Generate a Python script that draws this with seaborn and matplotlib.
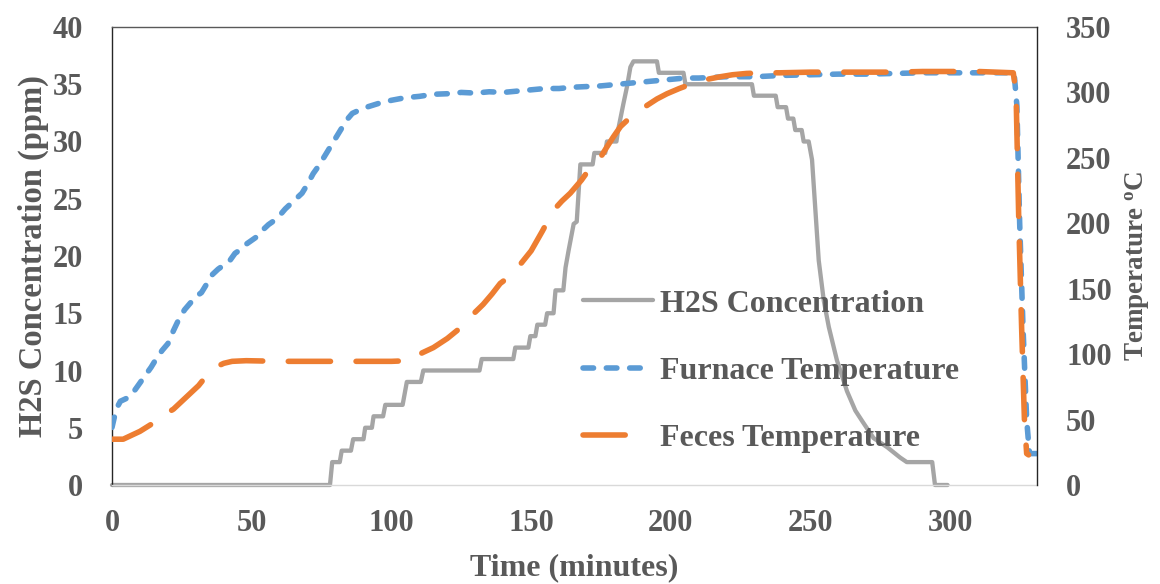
import matplotlib
matplotlib.use("Agg")
import matplotlib.pyplot as plt
import seaborn as sns
import numpy as np

# ---------------- data ----------------
h2s_time = [0, 78, 78.8, 81.5, 82.2, 85.5, 86.3, 90, 90.6, 93, 93.6, 97, 97.8, 104, 105.5,
            110.5, 111.4, 131.5, 132.3, 143.6, 144.3, 149, 149.7, 151.5, 152.2, 155, 155.7,
            158, 158.7, 161.5, 162.3, 163.4, 165.2, 166.3, 167.6, 172, 172.6, 176.5, 177.1,
            180.5, 181.1, 183, 184.3, 185.5, 186.6, 195, 195.7, 204.5, 205.2, 229, 229.7,
            237.5, 238.2, 241.2, 241.9, 243.8, 244.5, 246.8, 247.5, 249.3, 250.5, 251.7,
            252.9, 254.7, 256.5, 259.4, 263, 266, 268.4, 272.5, 277.4, 282, 284.4, 293.5,
            294.5, 299]
h2s_ppm = [0, 0, 2, 2, 3, 3, 4, 4, 5, 5, 6, 6, 7, 7, 9,
           9, 10, 10, 11, 11, 12, 12, 13, 13, 14, 14, 15,
           15, 17, 17, 19, 20.5, 22.8, 23, 28, 28, 29, 29, 30,
           30, 31, 33.3, 34.8, 36.5, 37, 37, 36, 36, 35, 35, 34,
           34, 33, 33, 32, 32, 31, 31, 30, 30, 28.4, 24,
           19.6, 16.1, 13.8, 10.9, 8.2, 6.5, 5.6, 4.1, 3.3, 2.4, 2, 2,
           0, 0]

furnace_time = [0, 1.5, 3, 6, 8, 10, 12, 14, 16, 18, 20, 22, 24, 26, 28, 30, 32, 34, 36, 38,
                40, 42, 44, 46, 48, 50, 52, 54, 56, 58, 60, 62, 64, 66, 68, 70, 72, 74, 76,
                78, 80, 82, 84, 86, 88, 90, 93, 96, 100, 105, 110, 115, 120, 125, 130, 135,
                140, 145, 150, 155, 160, 165, 170, 175, 180, 185, 190, 195, 200, 205, 210,
                220, 230, 240, 250, 260, 270, 280, 290, 300, 310, 320, 322.8, 323.8, 324.8,
                326, 327.3, 328.3, 331]
furnace_temp = [44, 58, 64, 67, 72, 78, 84, 90, 97, 103, 108, 118, 127, 134, 139, 144, 147,
                154, 161, 165, 168, 171, 177, 180, 184, 187, 190, 195, 199, 202, 206, 211,
                215, 219, 223, 230, 238, 244, 251, 258, 265, 272, 279, 284, 286, 288, 290,
                292, 294, 296, 297, 298.6, 299, 300, 299.5, 300.5, 300, 301, 302, 303, 303,
                304, 304.5, 305, 306, 307, 308, 309, 310, 311, 311, 312, 312, 313, 313.5,
                314, 314, 314.5, 315, 315, 315, 315, 315, 290, 200, 120, 50, 24, 24]

feces_time = [0, 4, 7, 10, 13, 16, 19, 22, 25, 28, 31, 34, 37, 40, 43, 48, 60, 80, 100, 106,
              108, 111, 115, 120, 124.6, 128, 132.8, 136, 138.9, 142, 144, 147, 150, 154,
              158, 161, 164, 168, 171, 174.7, 177, 179.4, 182, 185.5, 188, 191.4, 195,
              198.6, 203, 208, 213, 217.7, 222, 227, 233, 239, 250, 260, 270, 280, 290, 300,
              310, 322.5, 323.5, 324.5, 325.5, 326.5, 327.3, 328]
feces_temp = [35, 35, 38, 41, 45, 49, 54, 58, 64, 70, 76, 84, 90, 93, 94.5, 95, 94.5, 94.5,
              94.5, 95, 97, 101, 105, 112, 120, 128, 138, 146, 154, 159, 163, 171, 179, 194,
              210, 217, 223, 233, 242, 250, 258, 266, 274, 281, 285, 290, 295, 299, 303,
              307, 310, 312, 313.5, 314.5, 315, 315, 315.5, 315.5, 315.5, 315.5, 316, 316,
              316, 315, 300, 200, 120, 50, 24, 23]

x_ticks = [0, 50, 100, 150, 200, 250, 300]
y_left_ticks = [0, 5, 10, 15, 20, 25, 30, 35, 40]
y_right_ticks = [0, 50, 100, 150, 200, 250, 300, 350]

labels = ["H2S Concentration", "Furnace Temperature", "Feces Temperature"]

# ---------------- style ----------------
sns.set_theme(style="white")
plt.rcParams["font.family"] = ["Liberation Serif", "DejaVu Serif"]
plt.rcParams["font.weight"] = "bold"
plt.rcParams["mathtext.fontset"] = "custom"
plt.rcParams["mathtext.rm"] = "Liberation Serif:bold"
plt.rcParams["mathtext.it"] = "Liberation Serif:bold"
plt.rcParams["mathtext.bf"] = "Liberation Serif:bold"

TXT = "#595959"
GRAY = "#A5A5A5"
BLUE = "#5B9BD5"
ORANGE = "#ED7D31"

W, H = 1160, 584
fig = plt.figure(figsize=(W / 100, H / 100), dpi=100)
fig.subplots_adjust(left=112 / W, right=1037 / W, top=1 - 27 / H, bottom=1 - 485 / H)
ax = fig.add_subplot(111)
ax2 = ax.twinx()

sns.lineplot(x=h2s_time, y=h2s_ppm, ax=ax, color=GRAY, linewidth=3.1,
             estimator=None, sort=False, label=labels[0], legend=False)
sns.lineplot(x=furnace_time, y=furnace_temp, ax=ax2, color=BLUE, linewidth=4.0,
             estimator=None, sort=False, label=labels[1], legend=False)
sns.lineplot(x=feces_time, y=feces_temp, ax=ax2, color=ORANGE, linewidth=4.0,
             estimator=None, sort=False, label=labels[2], legend=False)

l_gray = ax.get_lines()[0]
l_gray.set_clip_on(False)
l_gray.set_solid_joinstyle("round")
l_blue, l_orange = ax2.get_lines()[0], ax2.get_lines()[1]
l_blue.set_linestyle((0, (1.9, 2.3)))
l_blue.set_dash_capstyle("round")
l_orange.set_linestyle((0, (7.6, 4.6)))
l_orange.set_dash_capstyle("round")

ax.set_xlim(0, 331)
ax.set_ylim(0, 40)
ax2.set_ylim(0, 350)
ax.set_xticks(x_ticks)
ax.set_yticks(y_left_ticks)
ax2.set_yticks(y_right_ticks)

ax.tick_params(axis="x", length=0, pad=17, labelsize=22, labelcolor=TXT)
ax.tick_params(axis="y", length=0, pad=21, labelsize=22, labelcolor=TXT)
ax2.tick_params(axis="y", length=0, pad=21, labelsize=22, labelcolor=TXT)
for t in ax.get_xticklabels() + ax.get_yticklabels() + ax2.get_yticklabels():
    t.set_fontweight("bold")

ax.set_xlabel("Time (minutes)", fontsize=23, fontweight="bold", color=TXT)
ax.set_ylabel("H2S Concentration (ppm)", fontsize=23.5, fontweight="bold", color=TXT)
ax2.set_ylabel(r"Temperature $^{\mathrm{o}}$C", fontsize=19.5, fontweight="bold", color=TXT)
ax.xaxis.set_label_coords(0.5, -0.148)
ax.yaxis.set_label_coords(-0.068, 0.5)
ax2.yaxis.set_label_coords(1.094, 0.478)

for s in ax.spines.values():
    s.set_linewidth(1.0)
ax.spines["left"].set_color("#262626")
ax.spines["top"].set_color("#595959")
ax.spines["bottom"].set_color("#D9D9D9")
ax.spines["right"].set_visible(False)
for k in ["left", "top", "bottom"]:
    ax2.spines[k].set_visible(False)
ax2.spines["right"].set_color("#262626")
ax2.spines["right"].set_linewidth(1.0)
ax.grid(False)
ax2.grid(False)

handles = [l_gray, l_blue, l_orange]
leg = ax2.legend(handles, labels, loc="center left",
                 bbox_to_anchor=(583 / W, 1 - 371 / H), bbox_transform=fig.transFigure,
                 frameon=False, borderpad=0, borderaxespad=0, handlelength=2.2,
                 handletextpad=0.2, labelspacing=1.18,
                 prop={"family": ["Liberation Serif"], "weight": "bold", "size": 23})
for t in leg.get_texts():
    t.set_color(TXT)
# the feces legend handle shows a single long dash, as in the original
leg.get_lines()[2].set_linestyle((0, (7.6, 12)))

fig.savefig("out.png", dpi=100)
